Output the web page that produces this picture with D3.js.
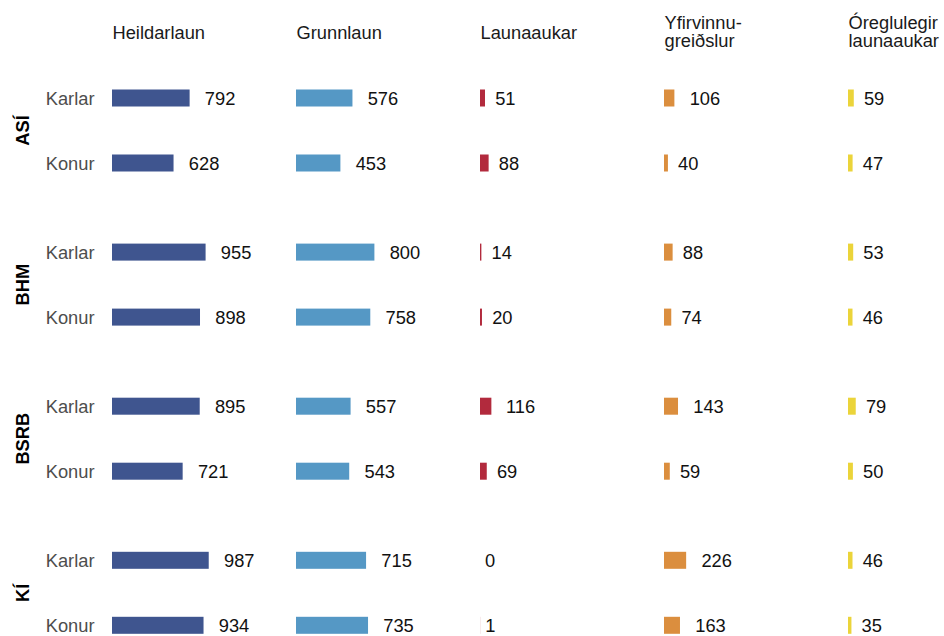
<!DOCTYPE html>
<html>
<head>
<meta charset="utf-8">
<script src="https://cdn.jsdelivr.net/npm/d3@7"></script>
<style>
  body { margin: 0; background: #fff; }
  text { font-family: "Liberation Sans", Arial, sans-serif; font-size: 18.3px; }
</style>
</head>
<body>
<svg width="944" height="636"></svg>
<script>
// Unions (facet rows) and the two sexes inside each of them
const groups = ['ASÍ', 'BHM', 'BSRB', 'KÍ'];
const sexes = ['Karlar', 'Konur'];

// Column keys, header lines and bar colours
const columns = ['heild', 'grunn', 'auka', 'yfir', 'oregl'];
const headers = [['Heildarlaun'], ['Grunnlaun'], ['Launaaukar'], ['Yfirvinnu-', 'greiðslur'], ['Óreglulegir', 'launaaukar']];
const colors = ['#3f558f', '#5598c5', '#b22a3d', '#db8e3e', '#ebd43a'];

// Values per column, in order ASÍ Karlar, ASÍ Konur, BHM Karlar, BHM Konur, ...
const heildarlaun = [792, 628, 955, 898, 895, 721, 987, 934];
const grunnlaun = [576, 453, 800, 758, 557, 543, 715, 735];
const launaaukar = [51, 88, 14, 20, 116, 69, 0, 1];
const yfirvinnu = [106, 40, 88, 74, 143, 59, 226, 163];
const oreglulegir = [59, 47, 53, 46, 79, 50, 46, 35];

const series = [heildarlaun, grunnlaun, launaaukar, yfirvinnu, oreglulegir];

const rows = [];
groups.forEach((g, gi) => sexes.forEach((s, si) => {
  const idx = gi * sexes.length + si;
  columns.forEach((c, ci) => rows.push({group: g, sex: s, col: c, value: series[ci][idx]}));
}));

const svg = d3.select('svg');
const barHeight = 17;

const col = d3.scalePoint().domain(columns).range([112, 848]);
const x = d3.scaleLinear().domain([0, 1000]).range([0, 98]);
const gy = d3.scalePoint().domain(groups).range([98, 560.3]);
const sy = d3.scalePoint().domain(sexes).range([0, 65]);
const color = d3.scaleOrdinal().domain(columns).range(colors);
const y = d => gy(d.group) + sy(d.sex);

// column headers
const head = svg.append('g').selectAll('text')
  .data(columns)
  .enter().append('text')
    .attr('x', d => col(d) + 0.5)
    .attr('y', (d, i) => headers[i].length > 1 ? 29.3 : 39.3)
    .attr('fill', '#1a1a1a');
head.selectAll('tspan')
  .data((d, i) => headers[i])
  .enter().append('tspan')
    .attr('x', function() { return this.parentNode.getAttribute('x'); })
    .attr('dy', (d, i) => i === 0 ? 0 : 17.4)
    .text(d => d);

// union labels, rotated
svg.append('g').selectAll('text')
  .data(groups)
  .enter().append('text')
    .attr('transform', d => `translate(29,${gy(d) + sy.range()[1] / 2}) rotate(-90)`)
    .attr('text-anchor', 'middle')
    .attr('font-weight', 'bold')
    .attr('fill', '#000')
    .text(d => d);

// Karlar / Konur labels
const rowKeys = groups.flatMap(g => sexes.map(s => ({group: g, sex: s})));
svg.append('g').selectAll('text')
  .data(rowKeys)
  .enter().append('text')
    .attr('x', 94.5)
    .attr('y', y)
    .attr('dy', '0.36em')
    .attr('text-anchor', 'end')
    .attr('fill', '#4d4d4d')
    .text(d => d.sex);

// bars
svg.append('g').selectAll('rect')
  .data(rows)
  .enter().append('rect')
    .attr('x', d => col(d.col))
    .attr('y', d => y(d) - barHeight / 2)
    .attr('width', d => x(d.value))
    .attr('height', barHeight)
    .attr('fill', d => color(d.col));

// value labels, pushed out by half their own width
svg.append('g').selectAll('text')
  .data(rows)
  .enter().append('text')
    .attr('y', y)
    .attr('dy', '0.36em')
    .attr('fill', '#111')
    .text(d => d.value)
    .attr('x', function(d) {
      return col(d.col) + x(d.value) + 0.5 * this.getComputedTextLength();
    });
</script>
</body>
</html>
